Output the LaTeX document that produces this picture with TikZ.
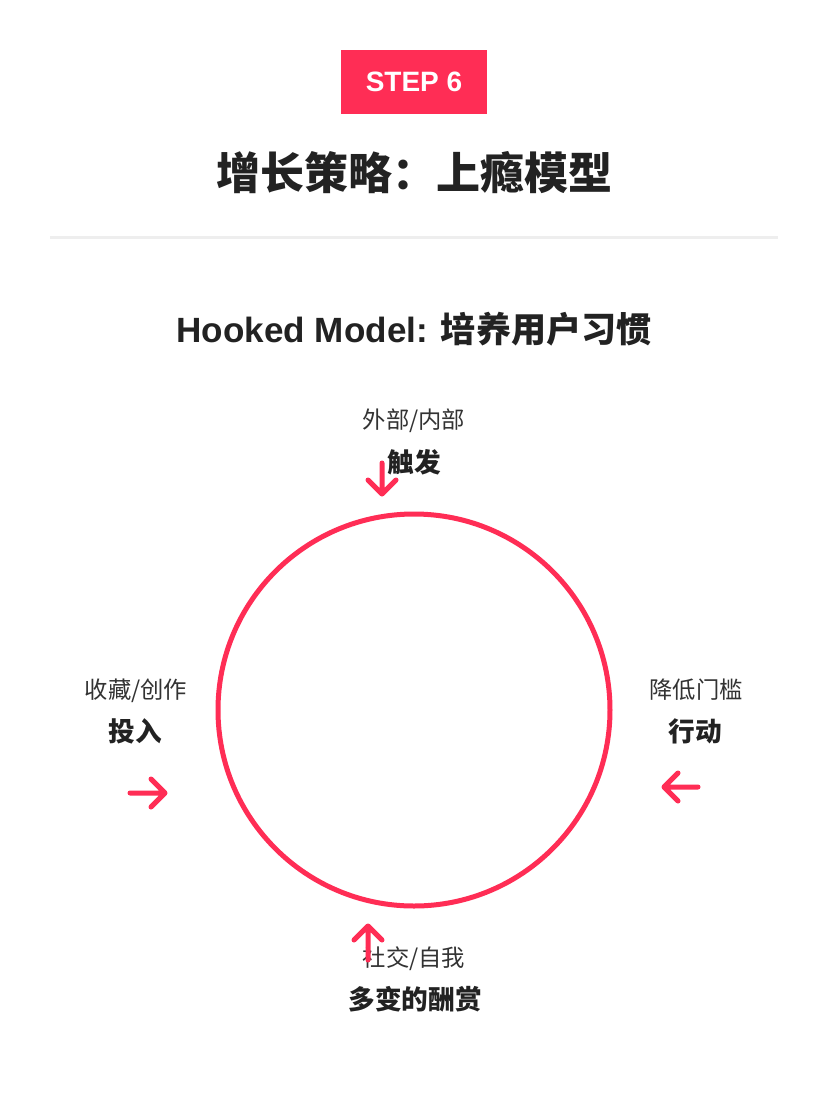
\documentclass[tikz,border=0pt]{standalone}
\usepackage{fontspec}
\setmainfont{Liberation Sans}
\newfontfamily\cjk{Noto Sans CJK SC}
\definecolor{hookred}{HTML}{FF2D55}
\definecolor{ink}{HTML}{222222}
\definecolor{soft}{HTML}{333333}
\definecolor{rulegray}{HTML}{EEEEEE}
\begin{document}
\begin{tikzpicture}[x=0.75pt,y=-0.75pt,
  lbl/.style={inner sep=0pt, text depth=0pt, anchor=center},
  sublabel/.style={lbl, text=soft, text height=13.3pt, font=\cjk\fontsize{17.5}{20}\selectfont},
  mainlabel/.style={lbl, text=ink, text height=15.2pt, font=\cjk\bfseries\fontsize{20}{24}\selectfont},
  icon/.style={draw=hookred, line width=3.75pt, line cap=round, line join=round},
]
\useasboundingbox (0,0) rectangle (828,1104);
\fill[white] (0,0) rectangle (828,1104);

% badge and titles
\node[fill=hookred, minimum width=109.5pt, minimum height=48pt, inner sep=0pt,
      text=white, font=\bfseries\fontsize{21}{24}\selectfont] (badge) at (414,82) {STEP 6};
\node[lbl, text=ink, text height=25pt, font=\cjk\bfseries\fontsize{33}{36}\selectfont] (title) at (414,173) {增长策略：上瘾模型};
\coordinate (ruleL) at (50,237);
\coordinate (ruleR) at (778,237);
\draw[rulegray, line width=2.25pt] (ruleL) -- (ruleR);
\node[lbl, text=ink, text height=19.6pt, font=\bfseries\fontsize{26.3}{30}\selectfont] (subtitle) at (414,329) {Hooked Model: {\cjk 培养用户习惯}};

% loop
\node[circle, draw=hookred, line width=3.75pt, minimum size=294pt, inner sep=0pt] (loop) at (414,710) {};

% labels
\node[sublabel] (trigSub) at (414,420) {外部/内部};
\node[mainlabel] (trig) at (414,462) {触发};
\node[sublabel] (actSub) at (696,690) {降低门槛};
\node[mainlabel] (act) at (695,731) {行动};
\node[sublabel] (rewSub) at (414,958) {社交/自我};
\node[mainlabel] (rew) at (415,999) {多变的酬赏};
\node[sublabel] (invSub) at (136,690) {收藏/创作};
\node[mainlabel] (inv) at (135,731) {投入};

% arrows
\coordinate (trigTail) at (382,463);
\coordinate (trigTip) at (382,494);
\draw[icon] (trigTail) -- (trigTip) ++(-14,-14) -- (trigTip) -- ++(14,-14);

\coordinate (actTail) at (698,787);
\coordinate (actTip) at (664,787);
\draw[icon] (actTail) -- (actTip) ++(14,-14) -- (actTip) -- ++(14,14);

\coordinate (rewTail) at (368,960);
\coordinate (rewTip) at (368,926);
\draw[icon] (rewTail) -- (rewTip) ++(-14,14) -- (rewTip) -- ++(14,14);

\coordinate (invTail) at (130,793);
\coordinate (invTip) at (165,793);
\draw[icon] (invTail) -- (invTip) ++(-14,-14) -- (invTip) -- ++(-14,14);
\end{tikzpicture}
\end{document}
